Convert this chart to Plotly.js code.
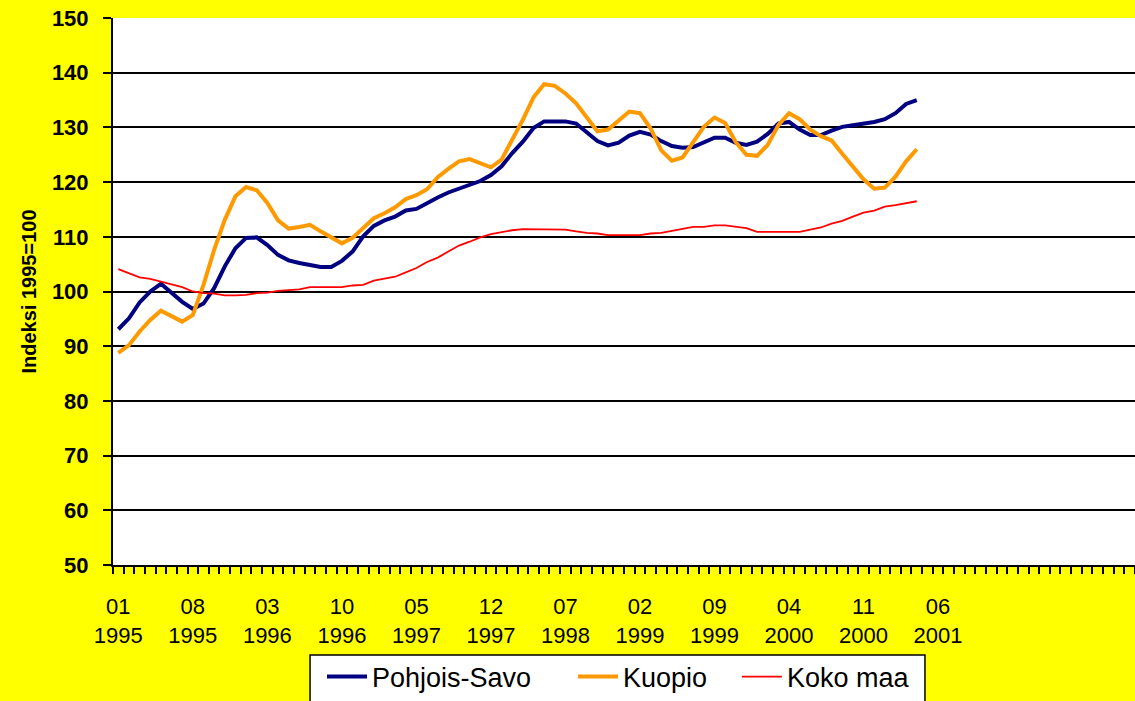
<!DOCTYPE html>
<html>
<head>
<meta charset="utf-8">
<script src="https://cdn.plot.ly/plotly-3.0.1.min.js"></script>
<style>
  html, body { margin: 0; padding: 0; background: #FFFF00; }
  #chart { width: 1135px; height: 701px; }
</style>
</head>
<body>
<div id="chart"></div>
<script>
// Category axis: monthly categories 01/1995 .. 12/2002 (data through 04/2001)
const startYear = 1995;
const months = [];
for (let y = startYear; y <= 2002; y++) {
  for (let m = 1; m <= 12; m++) {
    months.push((m < 10 ? '0' + m : '' + m) + ' ' + y);
  }
}

const tickLabels = ['01 1995', '08 1995', '03 1996', '10 1996', '05 1997', '12 1997',
                    '07 1998', '02 1999', '09 1999', '04 2000', '11 2000', '06 2001'];

const pohjoisSavo = [
  93.1, 95.1, 98.0, 100.0, 101.4, 99.7, 98.1, 96.8, 97.8, 100.6, 104.6, 107.9, 109.8, 109.9, 108.5, 106.7, 105.7, 105.2, 104.8, 104.5, 104.5,
  105.6, 107.3, 110.1, 112.0, 113.0, 113.7, 114.8, 115.1, 116.2, 117.2, 118.1, 118.8, 119.5, 120.2, 121.3, 122.9, 125.3, 127.4, 129.9,
  131.1, 131.1, 131.1, 130.7, 129.2, 127.5, 126.7, 127.2, 128.5, 129.2, 128.7, 127.5, 126.6, 126.3, 126.4, 127.2, 128.1, 128.1, 127.2,
  126.8, 127.4, 128.8, 130.7, 131.0, 129.6, 128.6, 128.6, 129.4, 130.1, 130.4, 130.7, 131.0, 131.5, 132.6, 134.3, 135.0
];

const kuopio = [
  88.8, 90.2, 92.7, 94.8, 96.5, 95.6, 94.5, 95.7, 101.2, 107.6, 113.1, 117.4, 119.1, 118.5, 116.2, 113.0, 111.5, 111.8, 112.2, 111.0, 109.8,
  108.8, 109.8, 111.6, 113.4, 114.3, 115.4, 116.9, 117.6, 118.7, 120.9, 122.4, 123.8, 124.2, 123.5, 122.7, 124.1, 127.7, 131.4, 135.5,
  137.9, 137.6, 136.2, 134.4, 131.9, 129.3, 129.6, 131.3, 132.9, 132.6, 129.8, 125.8, 123.9, 124.5, 127.3, 130.1, 131.8, 130.8, 127.3,
  125.0, 124.8, 126.8, 130.4, 132.6, 131.5, 129.6, 128.4, 127.6, 125.2, 122.8, 120.5, 118.8, 119.0, 121.0, 123.8, 126.0
];

const kokoMaa = [
  104.1, 103.4, 102.6, 102.3, 101.8, 101.2, 100.8, 100.0, 99.7, 99.6, 99.3, 99.3, 99.4, 99.7, 99.8, 100.1, 100.3, 100.4, 100.8, 100.8, 100.8,
  100.8, 101.1, 101.2, 102.0, 102.3, 102.7, 103.5, 104.3, 105.4, 106.2, 107.3, 108.4, 109.1, 109.9, 110.5, 110.9, 111.2, 111.4, 111.4,
  111.3, 111.3, 111.3, 111.0, 110.7, 110.6, 110.3, 110.3, 110.3, 110.3, 110.6, 110.7, 111.1, 111.5, 111.8, 111.8, 112.1, 112.1, 111.8,
  111.6, 110.9, 110.9, 110.9, 110.9, 110.9, 111.3, 111.7, 112.4, 112.9, 113.7, 114.4, 114.8, 115.5, 115.8, 116.1, 116.5
];

const seriesNames = ['Pohjois-Savo', 'Kuopio', 'Koko maa'];
const seriesColors = ['#000080', '#FF9900', '#FF0000'];
const seriesWidths = [4, 4, 1.8];
const seriesData = [pohjoisSavo, kuopio, kokoMaa];
const legendIds = ['legend', 'legend2', 'legend3'];
const legendX = [0.2045, 0.4501, 0.6105];

const traces = seriesData.map((vals, k) => ({
  type: 'scatter',
  mode: 'lines',
  name: seriesNames[k],
  legend: legendIds[k],
  x: vals.map((_, i) => i),
  y: vals,
  text: months.slice(0, vals.length),
  hovertemplate: '%{text}: %{y}<extra>' + seriesNames[k] + '</extra>',
  line: { color: seriesColors[k], width: seriesWidths[k] }
}));

const tickvals = tickLabels.map(l => months.indexOf(l));
const ticktext = tickLabels.map(l => l.replace(' ', '<br>'));

const legendStyle = (xPos) => ({
  orientation: 'h',
  x: xPos, xanchor: 'left',
  y: -0.16, yanchor: 'top',
  bgcolor: 'rgba(0,0,0,0)',
  borderwidth: 0,
  font: { size: 27, family: 'Liberation Sans, Arial, sans-serif', color: '#000' },
  itemwidth: 40
});

const layout = {
  width: 1135,
  height: 701,
  paper_bgcolor: '#FFFF00',
  plot_bgcolor: '#FFFFFF',
  margin: { l: 113, r: 0, t: 18, b: 136, autoexpand: false },
  font: { family: 'Liberation Sans, Arial, sans-serif', color: '#000000' },
  showlegend: true,
  legend: legendStyle(legendX[0]),
  legend2: legendStyle(legendX[1]),
  legend3: legendStyle(legendX[2]),
  shapes: [{
    type: 'rect', xref: 'paper', yref: 'paper',
    x0: 0.1928, x1: 0.7945, y0: -0.1645, y1: -0.27,
    fillcolor: '#FFFFFF',
    line: { color: '#000000', width: 1.5 },
    layer: 'above'
  }],
  xaxis: {
    type: 'linear',
    range: [-0.5, months.length - 0.5],
    tickmode: 'array',
    tickvals: tickvals,
    ticktext: ticktext,
    ticks: '',
    ticklabelstandoff: 21,
    tickfont: { size: 22, family: 'Liberation Sans, Arial, sans-serif', color: '#000' },
    showgrid: false,
    zeroline: false,
    showline: true,
    linecolor: '#000000',
    linewidth: 2,
    minor: {
      tickmode: 'linear',
      tick0: -0.5,
      dtick: 1,
      ticks: 'outside',
      ticklen: 7,
      tickwidth: 1.5,
      tickcolor: '#000000',
      showgrid: false
    },
    fixedrange: true
  },
  yaxis: {
    range: [50, 150],
    tickmode: 'linear',
    tick0: 50,
    dtick: 10,
    ticks: 'outside',
    ticklen: 8,
    tickwidth: 1.5,
    tickcolor: '#000000',
    ticklabelstandoff: 10,
    tickfont: { size: 22, family: 'Liberation Sans, Arial, sans-serif', weight: 'bold', color: '#000' },
    showgrid: true,
    gridcolor: '#000000',
    gridwidth: 1.5,
    zeroline: false,
    showline: true,
    linecolor: '#000000',
    linewidth: 2,
    title: {
      text: '<b>Indeksi 1995=100</b>',
      font: { size: 20, family: 'Liberation Sans, Arial, sans-serif', color: '#000' },
      standoff: 10
    },
    fixedrange: true
  }
};

Plotly.newPlot('chart', traces, layout, { displayModeBar: false, staticPlot: false });
</script>
</body>
</html>
